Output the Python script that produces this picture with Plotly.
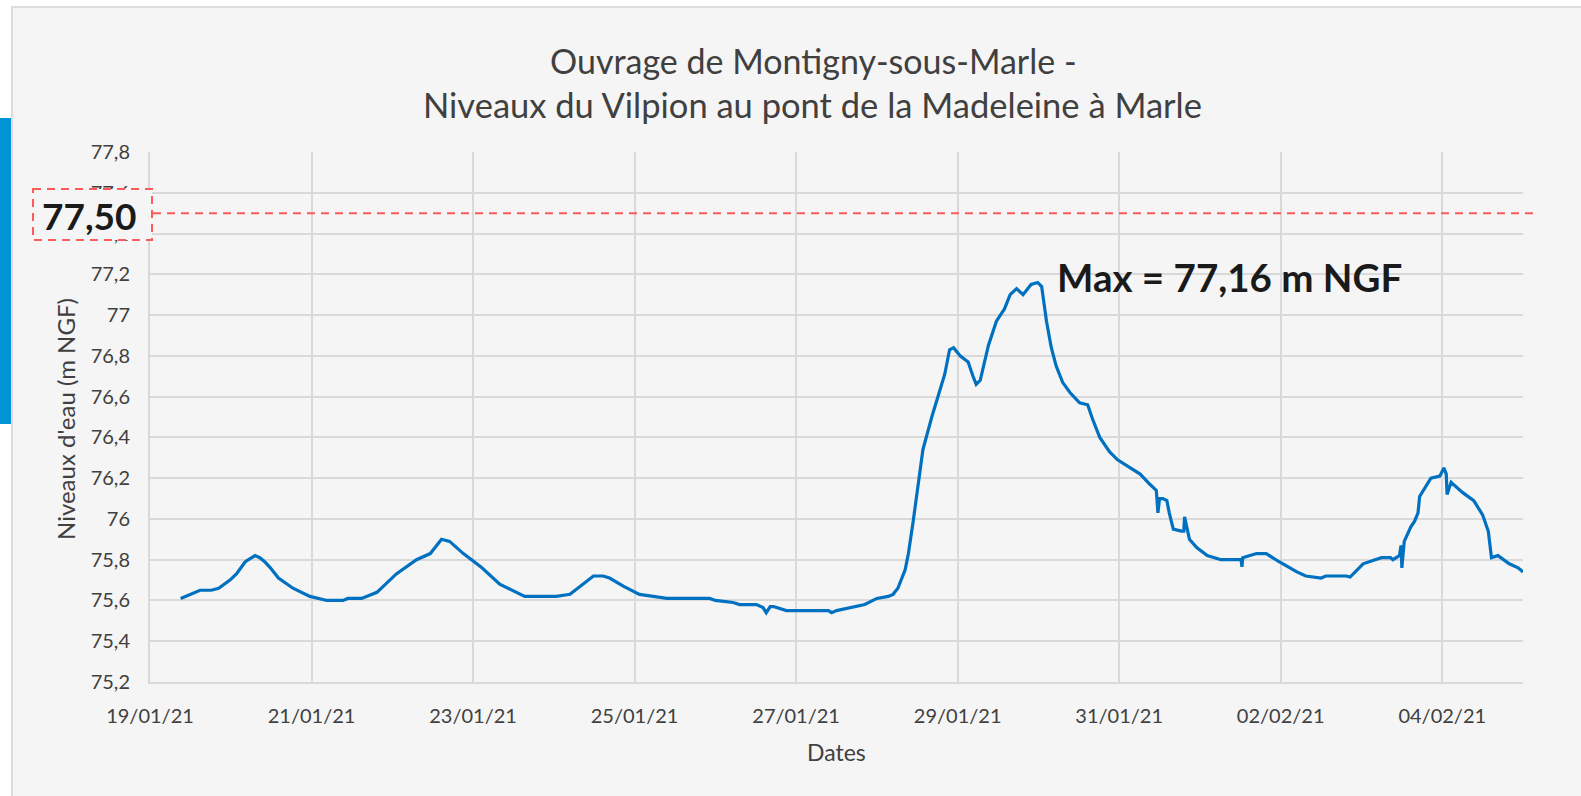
import plotly.graph_objects as go

# ---------------- data ----------------
dates = [
    "2021-01-19 09:07", "2021-01-19 12:00", "2021-01-19 14:53", "2021-01-19 18:14", "2021-01-19 20:24",
    "2021-01-19 23:46", "2021-01-20 01:41", "2021-01-20 04:19", "2021-01-20 07:12", "2021-01-20 08:38",
    "2021-01-20 10:05", "2021-01-20 11:46", "2021-01-20 14:10", "2021-01-20 18:29", "2021-01-20 23:31",
    "2021-01-21 04:34", "2021-01-21 09:22", "2021-01-21 10:48", "2021-01-21 14:53", "2021-01-21 19:26",
    "2021-01-22 01:12", "2021-01-22 07:12", "2021-01-22 11:17", "2021-01-22 14:38", "2021-01-22 17:02",
    "2021-01-22 21:07", "2021-01-23 02:38", "2021-01-23 07:55", "2021-01-23 15:22", "2021-01-24 00:43",
    "2021-01-24 04:48", "2021-01-24 11:46", "2021-01-24 14:38", "2021-01-24 16:34", "2021-01-24 20:38",
    "2021-01-25 01:26", "2021-01-25 09:36", "2021-01-25 22:19", "2021-01-26 00:00", "2021-01-26 05:17",
    "2021-01-26 07:12", "2021-01-26 12:14", "2021-01-26 14:10", "2021-01-26 15:07", "2021-01-26 16:19",
    "2021-01-26 17:17", "2021-01-26 19:12", "2021-01-26 21:07", "2021-01-27 09:36", "2021-01-27 10:34",
    "2021-01-27 12:00", "2021-01-27 17:02", "2021-01-27 20:24", "2021-01-28 00:00", "2021-01-28 03:22",
    "2021-01-28 04:48", "2021-01-28 06:14", "2021-01-28 08:24", "2021-01-28 09:22", "2021-01-28 10:48",
    "2021-01-28 12:14", "2021-01-28 13:41", "2021-01-28 16:19", "2021-01-28 18:43", "2021-01-28 20:10",
    "2021-01-28 21:36", "2021-01-28 22:48", "2021-01-29 00:43", "2021-01-29 03:07", "2021-01-29 04:34",
    "2021-01-29 05:31", "2021-01-29 06:43", "2021-01-29 09:07", "2021-01-29 11:31", "2021-01-29 13:55",
    "2021-01-29 15:36", "2021-01-29 17:31", "2021-01-29 19:26", "2021-01-29 21:50", "2021-01-29 23:46",
    "2021-01-30 00:58", "2021-01-30 02:24", "2021-01-30 03:50", "2021-01-30 05:17", "2021-01-30 07:12",
    "2021-01-30 09:22", "2021-01-30 12:14", "2021-01-30 14:38", "2021-01-30 16:05", "2021-01-30 18:14",
    "2021-01-30 21:07", "2021-01-30 23:31", "2021-01-31 03:07", "2021-01-31 06:14", "2021-01-31 09:07",
    "2021-01-31 11:02", "2021-01-31 11:31", "2021-01-31 12:00", "2021-01-31 12:58", "2021-01-31 14:10",
    "2021-01-31 14:53", "2021-01-31 16:05", "2021-01-31 18:29", "2021-01-31 19:12", "2021-01-31 19:26",
    "2021-01-31 19:55", "2021-01-31 20:53", "2021-01-31 23:02", "2021-02-01 02:10", "2021-02-01 06:14",
    "2021-02-01 12:14", "2021-02-01 12:29", "2021-02-01 12:43", "2021-02-01 16:48", "2021-02-01 19:41",
    "2021-02-01 23:31", "2021-02-02 04:48", "2021-02-02 07:26", "2021-02-02 12:00", "2021-02-02 13:26",
    "2021-02-02 19:26", "2021-02-02 20:38", "2021-02-02 23:17", "2021-02-03 00:29", "2021-02-03 04:05",
    "2021-02-03 06:00", "2021-02-03 08:38", "2021-02-03 09:22", "2021-02-03 11:17", "2021-02-03 11:46",
    "2021-02-03 12:00", "2021-02-03 12:43", "2021-02-03 14:38", "2021-02-03 15:50", "2021-02-03 16:48",
    "2021-02-03 17:02", "2021-02-03 17:17", "2021-02-03 20:38", "2021-02-03 23:17", "2021-02-04 00:29",
    "2021-02-04 01:12", "2021-02-04 01:26", "2021-02-04 02:38", "2021-02-04 06:00", "2021-02-04 09:22",
    "2021-02-04 12:00", "2021-02-04 13:41", "2021-02-04 14:38", "2021-02-04 16:34", "2021-02-04 19:55",
    "2021-02-04 22:34", "2021-02-05 00:00",
]
levels = [
    75.61, 75.63, 75.65, 75.65, 75.66,
    75.70, 75.73, 75.79, 75.82, 75.81,
    75.79, 75.76, 75.71, 75.66, 75.62,
    75.60, 75.60, 75.61, 75.61, 75.64,
    75.73, 75.80, 75.83, 75.90, 75.89,
    75.83, 75.76, 75.68, 75.62, 75.62,
    75.63, 75.72, 75.72, 75.71, 75.67,
    75.63, 75.61, 75.61, 75.60, 75.59,
    75.58, 75.58, 75.565, 75.54, 75.57,
    75.57, 75.56, 75.55, 75.55, 75.54,
    75.55, 75.57, 75.58, 75.61, 75.62,
    75.63, 75.66, 75.75, 75.83, 75.99,
    76.17, 76.34, 76.50, 76.63, 76.71,
    76.83, 76.84, 76.80, 76.77, 76.70,
    76.66, 76.68, 76.85, 76.97, 77.03,
    77.10, 77.13, 77.10, 77.15, 77.16,
    77.14, 76.97, 76.84, 76.75, 76.67,
    76.62, 76.57, 76.56, 76.49, 76.40,
    76.33, 76.29, 76.25, 76.22, 76.17,
    76.14, 76.03, 76.10, 76.10, 76.09,
    76.03, 75.95, 75.94, 75.94, 76.01,
    75.97, 75.90, 75.86, 75.82, 75.80,
    75.80, 75.765, 75.81, 75.83, 75.83,
    75.79, 75.74, 75.72, 75.71, 75.72,
    75.72, 75.715, 75.76, 75.78, 75.80,
    75.81, 75.81, 75.80, 75.82, 75.87,
    75.76, 75.89, 75.96, 75.99, 76.03,
    76.09, 76.11, 76.20, 76.21, 76.25,
    76.22, 76.12, 76.18, 76.13, 76.09,
    76.02, 75.94, 75.81, 75.82, 75.78,
    75.76, 75.74,
]
threshold = 77.50
threshold_label = "77,50"
max_label = "Max = 77,16 m NGF"
title_lines = ["Ouvrage de Montigny-sous-Marle -",
               "Niveaux du Vilpion au pont de la Madeleine à Marle"]
x_title = "Dates"
y_title = "Niveaux d'eau (m NGF)"

# ---------------- layout geometry ----------------
W, H = 1581, 796
ML, MR, MT, MB = 150, 58, 152, 114
PW, PH = W - ML - MR, H - MT - MB


def px_x(p):
    return (p - ML) / PW


def px_y(p):
    return (H - MB - p) / PH


FONT = "Lato"
TXT = "#404040"
GRID = "#d9d9d9"
RED = "#ff5a5a"
PANEL = "#f5f5f5"

fig = go.Figure()
fig.add_trace(go.Scatter(
    x=dates, y=levels, mode="lines",
    line=dict(color="#0070c0", width=3.2),
    showlegend=False, hoverinfo="x+y",
))

shapes = [
    # gray chart panel
    dict(type="rect", xref="paper", yref="paper", layer="below",
         x0=px_x(12), x1=px_x(1600), y0=px_y(7), y1=px_y(820),
         fillcolor=PANEL, line=dict(color="#dcdcdc", width=2)),
    # blue bar at left
    dict(type="rect", xref="paper", yref="paper", layer="below",
         x0=px_x(-2), x1=px_x(11), y0=px_y(118), y1=px_y(424),
         fillcolor="#0094d6", line=dict(width=0)),
    # threshold dashed line
    dict(type="line", xref="paper", yref="y", layer="above",
         x0=px_x(153), x1=px_x(1537), y0=threshold, y1=threshold,
         line=dict(color=RED, width=2, dash="8px,6px")),
    # threshold label box
    dict(type="rect", xref="paper", yref="paper", layer="above",
         x0=px_x(33), x1=px_x(152), y0=px_y(189), y1=px_y(240),
         fillcolor=PANEL, line=dict(color=RED, width=2, dash="8px,6px")),
]

annotations = [
    dict(xref="paper", yref="paper", x=px_x(813), y=px_y(60.5), text=title_lines[0],
         showarrow=False, xanchor="center", yanchor="middle",
         font=dict(family=FONT, size=34, color=TXT)),
    dict(xref="paper", yref="paper", x=px_x(812), y=px_y(104.5), text=title_lines[1],
         showarrow=False, xanchor="center", yanchor="middle",
         font=dict(family=FONT, size=34.5, color=TXT)),
    dict(xref="paper", yref="paper", x=px_x(89), y=px_y(215), text="<b>" + threshold_label + "</b>",
         showarrow=False, xanchor="center", yanchor="middle",
         font=dict(family=FONT, size=37, color="#1a1a1a")),
    dict(xref="paper", yref="paper", x=px_x(1055), y=px_y(277), text="<b>" + max_label + "</b>",
         showarrow=False, xanchor="left", yanchor="middle",
         font=dict(family=FONT, size=38.5, color="#1a1a1a")),
    dict(xref="paper", yref="paper", x=px_x(836), y=px_y(752), text=x_title,
         showarrow=False, xanchor="center", yanchor="middle",
         font=dict(family=FONT, size=23, color=TXT)),
    dict(xref="paper", yref="paper", x=px_x(65), y=px_y(419), text=y_title,
         showarrow=False, xanchor="center", yanchor="middle", textangle=-90,
         font=dict(family=FONT, size=24, color=TXT)),
]

fig.update_layout(
    width=W, height=H,
    margin=dict(l=ML, r=MR, t=MT, b=MB, pad=0),
    paper_bgcolor="white",
    plot_bgcolor="rgba(0,0,0,0)",
    separators=", ",
    font=dict(family=FONT, size=20, color=TXT),
    shapes=shapes,
    annotations=annotations,
    xaxis=dict(
        type="date",
        range=["2021-01-19", "2021-02-05"],
        tick0="2021-01-19", dtick=2 * 86400000,
        tickformat="%d/%m/%y",
        showgrid=True, gridcolor=GRID, gridwidth=2,
        showline=True, linecolor=GRID, linewidth=2,
        ticks="", ticklabelstandoff=15,
        tickfont=dict(family=FONT, size=20, color=TXT),
        zeroline=False,
    ),
    yaxis=dict(
        range=[75.2, 77.8],
        dtick=0.2, tick0=75.2,
        showgrid=True, gridcolor=GRID, gridwidth=2,
        showline=True, linecolor=GRID, linewidth=2,
        ticks="", ticklabelstandoff=14,
        tickfont=dict(family=FONT, size=20, color=TXT),
        zeroline=False,
    ),
)

fig.write_html("out.html",
               config={"displayModeBar": False},
               post_script="document.body.style.margin='0';document.body.style.overflow='hidden';")
